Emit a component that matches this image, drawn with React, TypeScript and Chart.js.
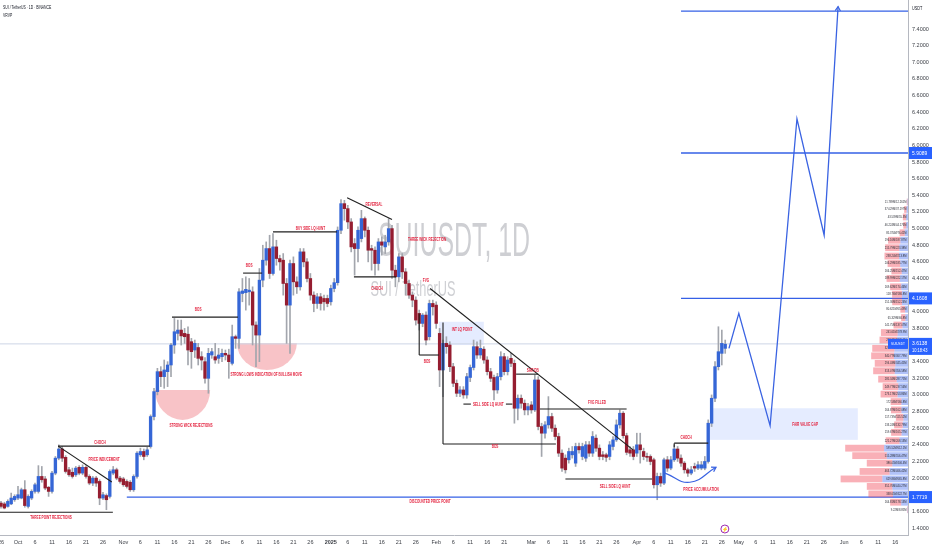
import React, { useEffect, useRef } from "react";
import { Chart, registerables } from "chart.js";

Chart.register(...registerables);

// day 0 = 2024-10-01 ; first candle = 2024-09-26
const FIRST_DAY = -5;

// [open, high, low, close]
const ohlc: number[][] = [
  [1.70,1.72,1.64,1.66],[1.69,1.71,1.63,1.64],[1.66,1.74,1.65,1.72],[1.69,1.82,1.68,1.76],[1.74,1.80,1.72,1.78],
  [1.76,1.90,1.74,1.80],[1.76,1.88,1.75,1.86],[1.86,1.97,1.65,1.67],[1.66,1.80,1.64,1.78],[1.76,1.86,1.74,1.84],
  [1.84,1.94,1.82,1.92],[1.84,2.15,1.82,2.02],[2.02,2.14,1.95,1.98],[1.99,2.02,1.86,1.88],[1.89,1.90,1.78,1.84],
  [1.84,2.08,1.82,2.06],[2.06,2.26,2.04,2.24],[2.24,2.40,2.22,2.35],[2.35,2.38,2.20,2.24],[2.25,2.27,2.06,2.08],
  [2.10,2.13,2.02,2.04],[2.07,2.12,2.00,2.02],[2.04,2.14,2.02,2.12],[2.13,2.15,2.04,2.06],[2.06,2.16,2.04,2.13],
  [2.13,2.15,2.00,2.02],[2.02,2.04,1.92,1.94],[1.94,2.02,1.91,2.00],[2.00,2.02,1.90,1.94],[1.96,1.98,1.68,1.76],
  [1.76,1.83,1.74,1.80],[1.79,1.81,1.62,1.74],[1.78,2.10,1.76,2.08],[2.06,2.14,2.04,2.10],[2.10,2.12,1.98,2.00],
  [2.00,2.02,1.94,1.96],[1.99,2.01,1.90,1.92],[1.96,1.98,1.88,1.90],[1.95,1.97,1.84,1.86],[1.86,2.04,1.84,2.02],
  [2.02,2.32,2.00,2.30],[2.28,2.36,2.26,2.32],[2.32,2.35,2.22,2.26],[2.28,2.37,2.26,2.34],[2.38,2.76,2.36,2.74],
  [2.74,3.08,2.70,3.04],[3.04,3.32,3.00,3.28],[3.28,3.34,3.10,3.22],[3.22,3.42,3.08,3.30],[3.28,3.40,3.10,3.36],
  [3.36,3.62,3.22,3.60],[3.60,3.92,3.50,3.76],[3.74,3.90,3.66,3.78],[3.78,3.90,3.60,3.71],[3.74,3.80,3.62,3.70],
  [3.73,3.82,3.36,3.54],[3.64,3.68,3.32,3.52],[3.54,3.66,3.45,3.62],[3.57,3.62,3.36,3.44],[3.46,3.52,3.30,3.42],
  [3.40,3.45,3.14,3.20],[3.20,3.56,3.02,3.50],[3.48,3.56,3.44,3.52],[3.46,3.62,3.38,3.42],[3.44,3.56,3.38,3.48],
  [3.46,3.55,3.40,3.50],[3.50,3.54,3.42,3.48],[3.48,3.55,3.20,3.40],[3.38,3.84,3.36,3.70],[3.70,3.72,3.56,3.68],
  [3.68,4.28,3.56,4.24],[4.22,4.40,4.12,4.25],[4.23,4.42,4.02,4.27],[4.24,4.40,4.08,4.26],[4.24,4.30,3.60,3.84],
  [3.84,3.88,3.34,3.72],[3.72,4.52,3.40,4.38],[4.38,4.80,4.30,4.62],[4.62,4.84,4.56,4.76],[4.76,4.92,4.40,4.46],
  [4.46,4.94,4.44,4.78],[4.78,4.86,4.56,4.64],[4.64,4.68,4.50,4.60],[4.62,4.70,4.20,4.34],[4.34,4.40,3.62,4.08],
  [4.08,4.62,3.50,4.58],[4.58,4.66,4.20,4.36],[4.36,4.42,4.22,4.30],[4.30,4.76,4.26,4.72],[4.72,4.76,4.54,4.60],
  [4.60,4.64,4.36,4.40],[4.40,4.46,4.14,4.20],[4.20,4.24,4.00,4.10],[4.10,4.22,4.04,4.18],[4.18,4.22,4.02,4.10],
  [4.16,4.20,4.02,4.12],[4.16,4.20,4.06,4.10],[4.12,4.32,4.08,4.28],[4.28,4.40,4.24,4.35],[4.35,5.02,4.32,4.98],
  [4.98,5.35,4.94,5.30],[5.30,5.34,5.10,5.24],[5.24,5.28,5.00,5.08],[5.08,5.12,4.72,4.78],[4.82,4.88,4.44,4.76],
  [4.76,5.02,4.60,4.98],[4.88,5.22,4.84,5.12],[5.12,5.14,4.90,4.98],[4.98,5.02,4.60,4.74],[4.76,4.80,4.50,4.74],
  [4.74,4.78,4.44,4.58],[4.58,4.88,4.50,4.84],[4.84,4.90,4.68,4.80],[4.78,4.92,4.70,4.84],[4.84,5.12,4.80,5.00],
  [5.00,5.04,4.40,4.50],[4.50,4.56,4.30,4.42],[4.42,4.70,4.36,4.66],[4.66,4.70,4.40,4.48],[4.48,4.52,4.20,4.34],
  [4.34,4.38,4.16,4.20],[4.20,4.24,4.06,4.14],[4.14,4.18,3.84,3.90],[3.98,4.02,3.78,3.86],[3.86,3.98,3.82,3.96],
  [3.96,4.00,3.60,3.66],[3.70,4.14,3.66,4.10],[4.10,4.14,3.96,4.06],[4.08,4.12,3.80,3.86],[3.74,3.80,3.10,3.30],
  [3.30,3.66,2.98,3.62],[3.62,3.70,3.50,3.58],[3.60,3.64,3.28,3.34],[3.34,3.38,3.10,3.14],[3.14,3.18,2.98,3.02],
  [3.02,3.10,2.98,3.06],[3.06,3.10,2.96,3.00],[3.00,3.26,2.96,3.22],[3.21,3.36,3.16,3.33],[3.33,3.66,3.30,3.58],
  [3.58,3.64,3.44,3.48],[3.48,3.66,3.44,3.56],[3.55,3.58,3.38,3.42],[3.42,3.46,3.24,3.28],[3.28,3.32,3.16,3.20],
  [3.21,3.24,2.94,3.06],[3.06,3.26,3.02,3.22],[3.22,3.52,3.18,3.46],[3.46,3.50,3.24,3.28],[3.28,3.46,3.24,3.42],
  [3.44,3.50,3.34,3.38],[3.38,3.42,2.66,2.84],[2.84,3.00,2.70,2.96],[2.96,3.00,2.84,2.90],[2.90,2.94,2.76,2.82],
  [2.82,2.90,2.76,2.86],[2.88,2.92,2.78,2.82],[2.82,3.24,2.80,3.18],[3.18,3.22,2.58,2.62],[2.62,2.66,2.26,2.54],
  [2.54,2.68,2.48,2.64],[2.64,2.98,2.60,2.74],[2.74,2.78,2.56,2.60],[2.60,2.64,2.46,2.50],[2.50,2.54,2.26,2.30],
  [2.30,2.34,2.08,2.12],[2.24,2.28,2.06,2.10],[2.22,2.36,2.18,2.32],[2.28,2.38,2.24,2.32],[2.18,2.42,2.14,2.38],
  [2.38,2.42,2.30,2.34],[2.26,2.42,2.22,2.38],[2.24,2.44,2.20,2.40],[2.40,2.44,2.26,2.30],[2.30,2.56,2.26,2.50],
  [2.48,2.52,2.32,2.36],[2.36,2.40,2.22,2.26],[2.28,2.32,2.22,2.26],[2.28,2.30,2.20,2.25],[2.26,2.44,2.22,2.40],
  [2.38,2.50,2.34,2.46],[2.46,2.70,2.44,2.64],[2.64,2.82,2.60,2.78],[2.78,2.80,2.48,2.51],[2.51,2.54,2.28,2.31],
  [2.34,2.38,2.26,2.30],[2.34,2.38,2.22,2.26],[2.30,2.54,2.26,2.40],[2.40,2.54,2.18,2.34],[2.32,2.36,2.22,2.26],
  [2.26,2.30,2.20,2.25],[2.26,2.28,2.16,2.20],[2.22,2.24,1.88,1.92],[1.92,2.06,1.74,2.02],[2.02,2.06,1.90,1.94],
  [1.94,2.24,1.92,2.22],[2.22,2.26,2.08,2.12],[2.12,2.26,2.10,2.22],[2.22,2.40,2.20,2.35],[2.35,2.38,2.20,2.24],
  [2.24,2.28,2.14,2.18],[2.18,2.20,2.06,2.10],[2.10,2.12,2.02,2.06],[2.06,2.14,2.04,2.10],[2.14,2.18,2.08,2.12],
  [2.12,2.20,2.10,2.16],[2.12,2.20,2.10,2.16],[2.12,2.26,2.10,2.20],[2.20,2.70,2.18,2.66],[2.66,3.00,2.62,2.96],
  [2.96,3.40,2.92,3.34],[3.34,3.82,3.30,3.52],[3.50,3.78,3.36,3.62],[3.56,3.66,3.50,3.61],
];

const xTickDays = [-5,0,5,10,15,20,25,31,36,41,46,51,56,61,66,71,76,81,86,92,97,102,107,112,117,123,128,133,138,143,151,156,161,166,171,176,182,187,192,197,202,207,212,217,222,227,232,237,243,248,253,258];
const xTickLabels = ["26","Oct","6","11","16","21","26","Nov","6","11","16","21","26","Dec","6","11","16","21","26","2025","6","11","16","21","26","Feb","6","11","16","21","Mar","6","11","16","21","26","Apr","6","11","16","21","26","May","6","11","16","21","26","Jun","6","11","16"];
const yTickValues = [1.4,1.6,1.8,2.0,2.2,2.4,2.6,2.8,3.0,3.2,3.4,3.6,3.8,4.0,4.2,4.4,4.6,4.8,5.0,5.2,5.4,5.6,5.8,6.0,6.2,6.4,6.6,6.8,7.0,7.2,7.4];

// black drawing segments [day1, price1, day2, price2]
const blackSegments: number[][] = [
  [-5.3,1.59,27.9,1.59],
  [11.8,2.385,38.8,2.385],
  [11.8,2.385,27.6,1.953],
  [45.3,3.936,64.7,3.936],
  [66.2,4.465,71.8,4.465],
  [75,4.96,93.8,4.96],
  [96.8,5.37,110,5.11],
  [98.8,4.42,111.2,4.42],
  [121.2,4.28,180.9,2.34],
  [118,3.98,118,3.48],
  [118,3.48,123.8,3.48],
  [146.5,3.25,153,3.25],
  [131,2.89,133.2,2.89],
  [143.5,2.89,145.4,2.89],
  [153.5,2.83,179,2.83],
  [125,3.87,125,2.41],
  [125,2.41,158.2,2.41],
  [161,1.99,186.5,1.99],
  [193,2.42,203,2.42],
  [193,2.42,193,2.37],
];

const blueLevels = [7.614, 5.9089, 4.1608, 1.7719];
const blueLevelStart = [195, 195, 195, 32];

const projDays = [209.1, 212, 221.2, 229.1, 237.1, 241.2];
const projPrices = [3.56, 3.98, 2.63, 6.32, 4.92, 7.67];

const accumDays = [190.3, 197.6, 205.3];
const accumPrices = [2.06, 1.95, 2.13];

const currentPrice = 3.6138;

const textLabels: [string, number, number][] = [
  ["THREE POINT REJECTIONS", 9.7, 1.52],
  ["CHOCH", 24.1, 2.43],
  ["PRICE INDUCEMENT", 25.3, 2.22],
  ["STRONG WICK REJECTIONS", 50.9, 2.63],
  ["BOS", 53, 4.03],
  ["BOS", 68, 4.55],
  ["STRONG LOWS INDICATION OF BULLISH MOVE", 73, 3.25],
  ["BUY SIDE LQ HUNT", 86, 5.0],
  ["REVERSAL", 104.7, 5.29],
  ["THREE WICK REJECTION", 120.3, 4.87],
  ["CHOCH", 105.6, 4.28],
  ["FVG", 120, 4.38],
  ["BOS", 120.3, 3.40],
  ["INT LQ POINT", 130.6, 3.78],
  ["SHR DB", 151.4, 3.29],
  ["SELL SIDE LQ HUNT", 138.3, 2.88],
  ["FVG FILLED", 170.3, 2.91],
  ["BOS", 140.3, 2.38],
  ["SELL SIDE LQ HUNT", 175.6, 1.90],
  ["CHOCH", 196.5, 2.49],
  ["PRICE ACCUMULATION", 200.9, 1.86],
  ["DISCOUNTED PRICE POINT", 121.2, 1.72],
  ["FAIR VALUE GAP", 231.5, 2.64],
];

// [day1, day2, priceLow, priceHigh]
const blueBoxes: number[][] = [
  [123.8, 137, 3.60, 3.88],
  [203.5, 247, 2.46, 2.84],
];
// [day1, day2, priceTop, priceBottom]
const pinkBowls: number[][] = [
  [40.3, 56.5, 3.06, 2.70],
  [64.4, 82, 3.62, 3.30],
];

// visible range volume profile rows (price centre), up / down volume in millions
const vpRows = [5.32,5.23,5.14,5.04,4.95,4.86,4.77,4.67,4.58,4.49,4.40,4.30,4.21,4.12,4.03,3.93,3.84,3.75,3.66,3.56,3.47,3.38,3.29,3.19,3.10,3.01,2.92,2.82,2.73,2.64,2.55,2.45,2.36,2.27,2.18,2.08,1.99,1.90,1.81,1.71,1.62];
const vpUp = [11.789,37.029,43.539,46.224,85.374,196.16,215.79,238.24,206.29,166.25,189.99,169.62,118.76,151.36,80.621,65.329,141.75,241.61,268.21,327.77,340.77,294.03,313.07,285.34,249.77,273.17,172.58,164.87,117.73,133.24,159.67,221.27,595.52,515.28,386.05,463.72,629.86,351.76,338.65,164.81,9.22];
const vpDown = [12.261,37.197,55.3,44.176,76.41,187.87,223.38,213.8,185.77,152.47,222.17,174.46,186.8,152.24,65.49,66.8,137.07,278.9,279.5,359.85,367.79,345.45,356.58,287.75,237.56,253.86,160.8,162.08,115.52,132.79,165.27,208.13,612.1,556.47,406.4,466.42,665.8,440.27,422.7,178.13,8.85];

const axisMarks: [number, string][] = [
  [5.9089, "5.9089"],
  [4.1608, "4.1608"],
  [1.7719, "1.7719"],
];

const FONT = '"Liberation Sans", Arial, sans-serif';
const UP = "#3566d6";
const DOWN = "#951d30";
const WICK = "#a3a6ad";
const LABEL_RED = "#e3233f";
const TV_BLUE = "#2962ff";

function drawText(
  ctx: CanvasRenderingContext2D,
  s: string,
  x: number,
  y: number,
  size: number,
  color: string,
  align: CanvasTextAlign = "center",
  sx = 0.65,
  weight = "normal"
) {
  ctx.save();
  ctx.font = `${weight} ${size}px ${FONT}`;
  ctx.fillStyle = color;
  ctx.textBaseline = "middle";
  ctx.textAlign = align;
  ctx.translate(x, y);
  ctx.scale(sx, 1);
  ctx.fillText(s, 0, 0);
  ctx.restore();
}

function arrowHead(ctx: CanvasRenderingContext2D, x1: number, y1: number, x2: number, y2: number, len: number) {
  const a = Math.atan2(y2 - y1, x2 - x1);
  ctx.beginPath();
  ctx.moveTo(x2 - len * Math.cos(a - 0.55), y2 - len * Math.sin(a - 0.55));
  ctx.lineTo(x2, y2);
  ctx.lineTo(x2 - len * Math.cos(a + 0.55), y2 - len * Math.sin(a + 0.55));
  ctx.stroke();
}

export default function App() {
  const ref = useRef<HTMLCanvasElement>(null);

  useEffect(() => {
    const X_MIN = -5.294, X_MAX = 261.76, Y_MIN = 1.3159, Y_MAX = 7.7486;
    const datasets: any[] = [];
    const lineBase = { type: "line", pointRadius: 0, fill: false, order: 0, tension: 0 };

    blackSegments.forEach((s) =>
      datasets.push({ ...lineBase, data: [{ x: s[0], y: s[1] }, { x: s[2], y: s[3] }], borderColor: "#1f1f1f", borderWidth: 1.1 })
    );
    blueLevels.forEach((p, i) =>
      datasets.push({ ...lineBase, data: [{ x: blueLevelStart[i], y: p }, { x: X_MAX, y: p }], borderColor: "#3560e6", borderWidth: 1.3 })
    );
    const projIndex = datasets.length;
    datasets.push({ ...lineBase, data: projDays.map((d, i) => ({ x: d, y: projPrices[i] })), borderColor: "#3a63e2", borderWidth: 1.3 });
    const accIndex = datasets.length;
    datasets.push({ ...lineBase, data: accumDays.map((d, i) => ({ x: d, y: accumPrices[i] })), borderColor: "#3a63e2", borderWidth: 1.2, tension: 0.45 });
    datasets.push({ ...lineBase, order: 8, data: [{ x: X_MIN, y: currentPrice }, { x: X_MAX, y: currentPrice }], borderColor: "#cdd5e6", borderWidth: 1 });

    datasets.push({
      type: "bar",
      data: ohlc.map((c, i) => ({ x: FIRST_DAY + i, y: [c[0], c[3]] })),
      backgroundColor: ohlc.map((c) => (c[3] >= c[0] ? UP : DOWN)),
      barThickness: 2.7,
      minBarLength: 1,
      grouped: false,
      borderWidth: 0,
      order: 5,
    });
    datasets.push({
      type: "bar",
      data: ohlc.map((c, i) => ({ x: FIRST_DAY + i, y: [c[2], c[1]] })),
      backgroundColor: WICK,
      barThickness: 1,
      grouped: false,
      borderWidth: 0,
      order: 6,
    });

    const background = {
      id: "background",
      beforeDatasetsDraw(chart: any) {
        const { ctx, chartArea, scales } = chart;
        const X = (d: number) => scales.x.getPixelForValue(d);
        const Y = (p: number) => scales.y.getPixelForValue(p);
        ctx.save();
        // watermark
        const cx = (chartArea.left + chartArea.right) / 2;
        ctx.font = `48px ${FONT}`;
        const w1 = ctx.measureText("SUIUSDT, 1D").width;
        ctx.fillStyle = "rgba(120,123,134,0.36)";
        ctx.textAlign = "center";
        ctx.textBaseline = "middle";
        ctx.save();
        ctx.translate(cx, 243);
        ctx.scale(152 / w1, 1);
        ctx.fillText("SUIUSDT, 1D", 0, 0);
        ctx.restore();
        ctx.font = `22px ${FONT}`;
        const w2 = ctx.measureText("SUI / TetherUS").width;
        ctx.save();
        ctx.translate(cx - 41, 290);
        ctx.scale(85 / w2, 1);
        ctx.fillText("SUI / TetherUS", 0, 0);
        ctx.restore();
        // boxes
        ctx.fillStyle = "rgba(41,98,255,0.12)";
        blueBoxes.forEach((b) => {
          const x1 = X(b[0]), x2 = X(b[1]), y1 = Y(b[3]), y2 = Y(b[2]);
          ctx.fillRect(x1, y1, x2 - x1, y2 - y1);
        });
        // bowls
        ctx.fillStyle = "rgba(235,90,100,0.36)";
        pinkBowls.forEach((b) => {
          const x1 = X(b[0]), x2 = X(b[1]), yt = Y(b[2]), yb = Y(b[3]);
          ctx.beginPath();
          ctx.ellipse((x1 + x2) / 2, yt, (x2 - x1) / 2, yb - yt, 0, 0, Math.PI);
          ctx.closePath();
          ctx.fill();
        });
        ctx.restore();
      },
      afterDatasetsDraw(chart: any) {
        const { ctx, chartArea, scales } = chart;
        const X = (d: number) => scales.x.getPixelForValue(d);
        const Y = (p: number) => scales.y.getPixelForValue(p);
        ctx.save();
        // arrow heads
        ctx.strokeStyle = "#3a63e2";
        ctx.lineWidth = 1.2;
        const pm = chart.getDatasetMeta(projIndex).data;
        const n = pm.length;
        arrowHead(ctx, pm[n - 2].x, pm[n - 2].y, pm[n - 1].x, pm[n - 1].y, 5);
        const am = chart.getDatasetMeta(accIndex).data;
        const m = am.length;
        arrowHead(ctx, am[m - 2].x, am[m - 2].y, am[m - 1].x, am[m - 1].y, 5);
        // labels
        textLabels.forEach(([s, d, p]) => drawText(ctx, s, X(d), Y(p), 5, LABEL_RED, "center", 0.62, "bold"));
        // volume profile
        const right = chartArea.right;
        vpRows.forEach((p, i) => {
          const yc = Y(p);
          const total = (vpUp[i] + vpDown[i]) * 0.052;
          const wb = total * 0.38;
          ctx.fillStyle = "rgba(242,80,95,0.45)";
          ctx.fillRect(right - total, yc - 3.4, total - wb, 6.8);
          ctx.fillStyle = "rgba(70,110,240,0.42)";
          ctx.fillRect(right - wb, yc - 3.4, wb, 6.8);
          drawText(ctx, `${vpUp[i]}M/${vpDown[i]}M`, right - 1.5, yc, 3.4, "#2a2d35", "right", 0.8);
        });
        ctx.restore();
      },
      afterDraw(chart: any) {
        const { ctx, chartArea, scales } = chart;
        const X = (d: number) => scales.x.getPixelForValue(d);
        const Y = (p: number) => scales.y.getPixelForValue(p);
        const ax = chartArea.right + 1;
        ctx.save();
        axisMarks.forEach(([p, s]) => {
          const y = Y(p);
          ctx.fillStyle = TV_BLUE;
          ctx.fillRect(ax, y - 6, 932 - ax, 12);
          drawText(ctx, s, ax + 3, y, 5.5, "#ffffff", "left", 0.9);
        });
        const yc = Y(currentPrice);
        ctx.fillStyle = TV_BLUE;
        ctx.fillRect(ax, yc - 6, 932 - ax, 17);
        drawText(ctx, currentPrice.toFixed(4), ax + 3, yc - 0.5, 5.5, "#ffffff", "left", 0.9);
        drawText(ctx, "10:18:43", ax + 3, yc + 6.5, 5, "#ffffff", "left", 0.8);
        ctx.fillRect(chartArea.right - 20, yc - 5, 20, 10);
        drawText(ctx, "SUIUSDT", chartArea.right - 10, yc, 4.2, "#ffffff", "center", 0.75);
        // titles
        drawText(ctx, "SUI / TetherUS · 1D · BINANCE", 3, 7, 5.5, "#131722", "left", 0.62);
        drawText(ctx, "VRVP", 3, 15, 5.5, "#131722", "left", 0.62);
        drawText(ctx, "USDT", chartArea.right + 4, 9, 5, "#131722", "left", 0.75);
        // event marker
        const ex = X(207.9), ey = chartArea.bottom - 6;
        ctx.beginPath();
        ctx.arc(ex, ey, 4, 0, Math.PI * 2);
        ctx.fillStyle = "#ffffff";
        ctx.fill();
        ctx.strokeStyle = "#9c27b0";
        ctx.lineWidth = 1;
        ctx.stroke();
        drawText(ctx, "⚡", ex, ey + 0.3, 5, "#9c27b0", "center", 1);
        ctx.restore();
      },
    };

    const chart = new Chart(ref.current as HTMLCanvasElement, {
      type: "bar",
      data: { datasets },
      options: {
        animation: false,
        responsive: false,
        devicePixelRatio: 1,
        events: [],
        layout: { padding: 0, autoPadding: false } as any,
        plugins: { legend: { display: false }, tooltip: { enabled: false } },
        scales: {
          x: {
            type: "linear",
            min: X_MIN,
            max: X_MAX,
            offset: false,
            grid: { display: false, drawTicks: false },
            border: { display: true, color: "#b5b8c0" },
            afterBuildTicks: (s: any) => {
              s.ticks = xTickDays.map((v) => ({ value: v }));
            },
            afterFit: (s: any) => {
              s.height = 15;
              s.paddingLeft = 0;
              s.paddingRight = 0;
            },
            ticks: {
              autoSkip: false,
              maxRotation: 0,
              padding: 4,
              color: "#3b3e45",
              font: (c: any) => ({
                size: 5.5,
                family: FONT,
                weight: c.tick && xTickLabels[xTickDays.indexOf(c.tick.value)] === "2025" ? "bold" : "normal",
              }),
              callback: (v: any) => {
                const i = xTickDays.indexOf(Number(v));
                return i >= 0 ? xTickLabels[i] : "";
              },
            },
          } as any,
          y: {
            type: "linear",
            position: "right",
            min: Y_MIN,
            max: Y_MAX,
            grid: { display: false, drawTicks: false },
            border: { display: true, color: "#b5b8c0" },
            afterBuildTicks: (s: any) => {
              s.ticks = yTickValues.map((v) => ({ value: v }));
            },
            afterFit: (s: any) => {
              s.width = 24;
              s.paddingTop = 0;
              s.paddingBottom = 0;
            },
            ticks: {
              padding: 4,
              color: "#3b3e45",
              font: { size: 5.5, family: FONT },
              callback: (v: any) => Number(v).toFixed(4),
            },
          } as any,
        },
      },
      plugins: [background],
    } as any);

    return () => chart.destroy();
  }, []);

  return (
    <div style={{ position: "fixed", left: 0, top: 0, width: 932, height: 550, background: "#ffffff" }}>
      <canvas ref={ref} width={932} height={550} style={{ display: "block", width: 932, height: 550 }} />
    </div>
  );
}
